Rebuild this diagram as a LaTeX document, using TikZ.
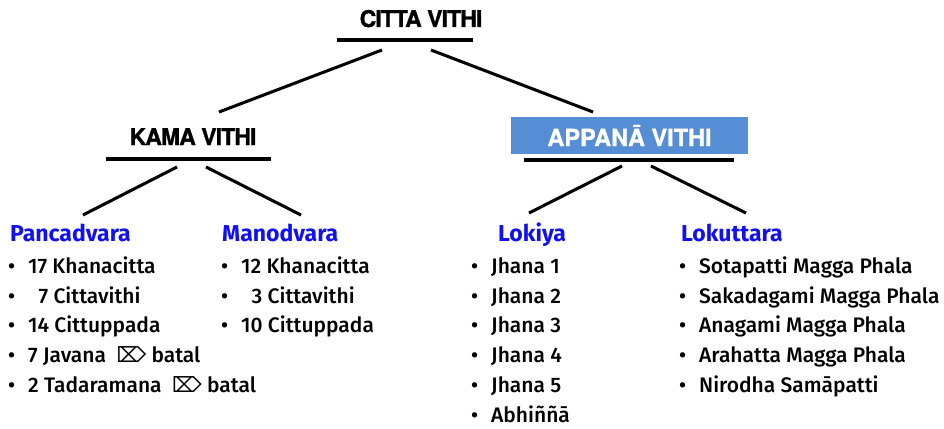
\documentclass[tikz,border=0pt]{standalone}
\usepackage{fontspec}
\setmainfont{Fira Sans}[UprightFont={* Medium}, BoldFont={* Bold}]
\newfontfamily\titlefont[FakeBold=1.2]{TeX Gyre Heros}
\newfontfamily\tighttitlefont[LetterSpace=-4, FakeBold=1.2]{TeX Gyre Heros}
\newfontfamily\symfont{DejaVu Sans}
\definecolor{headblue}{RGB}{16,16,240}
\definecolor{boxblue}{RGB}{85,142,213}
\newcommand\bitem[1]{\makebox[20pt][l]{•}#1}
\newcommand\erase{{\symfont\char"2326}}
\begin{document}
\begin{tikzpicture}[x=1pt,y=-1pt,
  title/.style={font=\tighttitlefont\bfseries\fontsize{23}{23}\selectfont, anchor=base, inner sep=0pt},
  bar/.style={line width=4.5pt},
  link/.style={line width=3pt},
  shade/.style={line width=3pt, draw=black!25, opacity=0.5, shift={(1pt,1.5pt)}},
  head/.style={font=\bfseries\fontsize{23}{23}\selectfont, text=headblue, anchor=base west, inner sep=0pt},
  entry/.style={font=\fontsize{21}{21}\selectfont, anchor=base west, inner sep=0pt},
]
\useasboundingbox (0,0) rectangle (944,428);

% top level
\node[title] (citta) at (421,27) {CITTA VITHI};
\coordinate (cittaL) at (337,40);
\coordinate (cittaR) at (473,40);
\coordinate (cittaA) at (382,50);
\coordinate (cittaB) at (431,50);

% second level
\node[title] (kama) at (193,145) {KAMA VITHI};
\coordinate (kamaL) at (106,159);
\coordinate (kamaR) at (271,159);
\coordinate (kamaTop) at (219,112);
\coordinate (kamaA) at (177,167);
\coordinate (kamaB) at (206,167);

\node[fill=boxblue, minimum width=237pt, minimum height=37pt, inner sep=0pt] (appbox) at (629.5,135.5) {};
\node[anchor=base, inner sep=0pt, text=white, font=\titlefont\bfseries\fontsize{23.5}{23.5}\selectfont] (appana) at (629.5,146) {APPANĀ VITHI};
\coordinate (appL) at (524,160);
\coordinate (appR) at (734,160);
\coordinate (appTop) at (593,112);
\coordinate (appA) at (622,166);
\coordinate (appB) at (651,166);

% connector ends above the headings
\coordinate (pancTop) at (83,215);
\coordinate (manoTop) at (301,215);
\coordinate (lokiTop) at (529,213);
\coordinate (lokuTop) at (746,213);

% soft shadows under the strokes
\draw[shade] (cittaA) -- (kamaTop);
\draw[shade] (cittaB) -- (appTop);
\draw[shade] (kamaA) -- (pancTop);
\draw[shade] (kamaB) -- (manoTop);
\draw[shade] (appA) -- (lokiTop);
\draw[shade] (appB) -- (lokuTop);
\draw[shade, line width=4.5pt] (cittaL) -- (cittaR);
\draw[shade, line width=4.5pt] (kamaL) -- (kamaR);
\draw[shade, line width=4.5pt] (appL) -- (appR);

% underline bars
\draw[bar] (cittaL) -- (cittaR);
\draw[bar] (kamaL) -- (kamaR);
\draw[bar] (appL) -- (appR);

% connectors
\draw[link] (cittaA) -- (kamaTop);
\draw[link] (cittaB) -- (appTop);
\draw[link] (kamaA) -- (pancTop);
\draw[link] (kamaB) -- (manoTop);
\draw[link] (appA) -- (lokiTop);
\draw[link] (appB) -- (lokuTop);

% Pancadvara
\node[head] (panc) at (10,241) {Pancadvara};
\node[entry] (p1) at (8,273) {\bitem{17 Khanacitta}};
\node[entry] (p2) at (8,303) {\bitem{\ \ 7 Cittavithi}};
\node[entry] (p3) at (8,332) {\bitem{14 Cittuppada}};
\node[entry] (p4) at (8,362) {\bitem{7 Javana \ \erase\ batal}};
\node[entry] (p5) at (8,392) {\bitem{2 Tadaramana \ \erase\ batal}};

% Manodvara
\node[head] (mano) at (222,241) {Manodvara};
\node[entry] (m1) at (221,273) {\bitem{12 Khanacitta}};
\node[entry] (m2) at (221,303) {\bitem{\ \ 3 Cittavithi}};
\node[entry] (m3) at (221,332) {\bitem{10 Cittuppada}};

% Lokiya
\node[head] (loki) at (498,241) {Lokiya};
\node[entry] (l1) at (471,273) {\bitem{Jhana 1}};
\node[entry] (l2) at (471,303) {\bitem{Jhana 2}};
\node[entry] (l3) at (471,332) {\bitem{Jhana 3}};
\node[entry] (l4) at (471,362) {\bitem{Jhana 4}};
\node[entry] (l5) at (471,392) {\bitem{Jhana 5}};
\node[entry] (l6) at (471,422) {\bitem{Abhiññā}};

% Lokuttara
\node[head] (loku) at (681,241) {Lokuttara};
\node[entry] (k1) at (679,273) {\bitem{Sotapatti Magga Phala}};
\node[entry] (k2) at (679,303) {\bitem{Sakadagami Magga Phala}};
\node[entry] (k3) at (679,332) {\bitem{Anagami Magga Phala}};
\node[entry] (k4) at (679,362) {\bitem{Arahatta Magga Phala}};
\node[entry] (k5) at (679,392) {\bitem{Nirodha Samāpatti}};
\end{tikzpicture}
\end{document}
